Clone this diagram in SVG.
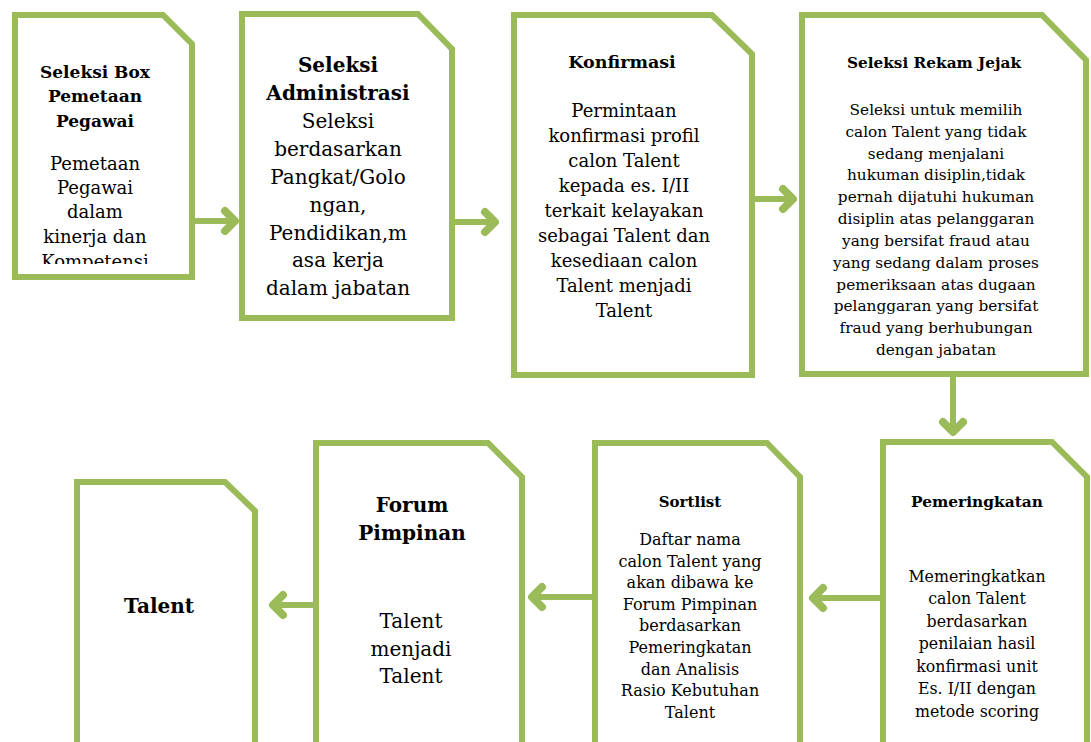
<svg xmlns="http://www.w3.org/2000/svg" width="1091" height="742" viewBox="0 0 1091 742">
  <style>
    .box { fill: #ffffff; stroke: #9bbb59; stroke-width: 6; stroke-linejoin: miter; }
    .t { font-family: "DejaVu Serif", "Liberation Serif", serif; fill: #000000; text-anchor: middle; }
    .b { font-weight: bold; }
    .conn { fill: none; stroke: #9bbb59; stroke-width: 6; }
  </style>
  <defs>
    <marker id="head" viewBox="0 0 30 30" refX="22" refY="15" markerWidth="30" markerHeight="30" markerUnits="userSpaceOnUse" orient="auto">
      <path d="M 11 5 L 21 15 L 11 25" fill="none" stroke="#9bbb59" stroke-width="8" stroke-linecap="round" stroke-linejoin="round"/>
    </marker>
    <clipPath id="clip1"><rect x="15" y="15" width="180" height="249"/></clipPath>
  </defs>
  <rect width="1091" height="742" fill="#ffffff"/>

  <g id="connectors">
    <path class="conn" d="M 193 221 H 236" marker-end="url(#head)"/>
    <path class="conn" d="M 452 222 H 496" marker-end="url(#head)"/>
    <path class="conn" d="M 752 199 H 794" marker-end="url(#head)"/>
    <path class="conn" d="M 953 376 V 433" marker-end="url(#head)"/>
    <path class="conn" d="M 883 598 H 812" marker-end="url(#head)"/>
    <path class="conn" d="M 595 597 H 531" marker-end="url(#head)"/>
    <path class="conn" d="M 316 605 H 272" marker-end="url(#head)"/>
  </g>

  <g id="node-seleksi-box">
    <path class="box" d="M 15 15 H 163 L 192 44 V 277 H 15 Z"/>
    <text class="t b" font-size="17" x="95"><tspan x="95" y="78">Seleksi Box</tspan><tspan x="95" y="102">Pemetaan</tspan><tspan x="95" y="127">Pegawai</tspan></text>
    <g clip-path="url(#clip1)">
      <text class="t" font-size="18" x="95"><tspan x="95" y="170">Pemetaan</tspan><tspan x="95" y="194">Pegawai</tspan><tspan x="95" y="218">dalam</tspan><tspan x="95" y="243">kinerja dan</tspan><tspan x="95" y="268">Kompetensi</tspan></text>
    </g>
  </g>

  <g id="node-seleksi-administrasi">
    <path class="box" d="M 242 14 H 418 L 452 49 V 318 H 242 Z"/>
    <text class="t b" font-size="20" x="338"><tspan x="338" y="72">Seleksi</tspan><tspan x="338" y="100">Administrasi</tspan></text>
    <text class="t" font-size="20" x="338"><tspan x="338" y="128">Seleksi</tspan><tspan x="338" y="156">berdasarkan</tspan><tspan x="338" y="184">Pangkat/Golo</tspan><tspan x="338" y="212">ngan,</tspan><tspan x="338" y="240">Pendidikan,m</tspan><tspan x="338" y="267">asa kerja</tspan><tspan x="338" y="295">dalam jabatan</tspan></text>
  </g>

  <g id="node-konfirmasi">
    <path class="box" d="M 514 15 H 712 L 752 54 V 375 H 514 Z"/>
    <text class="t b" font-size="17.5" x="622" y="68">Konfirmasi</text>
    <text class="t" font-size="18" x="624"><tspan x="624" y="117">Permintaan</tspan><tspan x="624" y="142">konfirmasi profil</tspan><tspan x="624" y="167">calon Talent</tspan><tspan x="624" y="192">kepada es. I/II</tspan><tspan x="624" y="217">terkait kelayakan</tspan><tspan x="624" y="242">sebagai Talent dan</tspan><tspan x="624" y="267">kesediaan calon</tspan><tspan x="624" y="292">Talent menjadi</tspan><tspan x="624" y="317">Talent</tspan></text>
  </g>

  <g id="node-seleksi-rekam-jejak">
    <path class="box" d="M 802 15 H 1042 L 1086 60 V 374 H 802 Z"/>
    <text class="t b" font-size="15.3" x="934" y="68">Seleksi Rekam Jejak</text>
    <text class="t" font-size="15.3" x="936"><tspan x="936" y="115">Seleksi untuk memilih</tspan><tspan x="936" y="137">calon Talent yang tidak</tspan><tspan x="936" y="159">sedang menjalani</tspan><tspan x="936" y="180">hukuman disiplin,tidak</tspan><tspan x="936" y="202">pernah dijatuhi hukuman</tspan><tspan x="936" y="224">disiplin atas pelanggaran</tspan><tspan x="936" y="246">yang bersifat fraud atau</tspan><tspan x="936" y="268">yang sedang dalam proses</tspan><tspan x="936" y="290">pemeriksaan atas dugaan</tspan><tspan x="936" y="311">pelanggaran yang bersifat</tspan><tspan x="936" y="333">fraud yang berhubungan</tspan><tspan x="936" y="355">dengan jabatan</tspan></text>
  </g>

  <g id="node-pemeringkatan">
    <path class="box" d="M 883 442 H 1052 L 1087 477 V 760 H 883 Z"/>
    <text class="t b" font-size="15.4" x="977" y="507">Pemeringkatan</text>
    <text class="t" font-size="15.8" x="977"><tspan x="977" y="582">Memeringkatkan</tspan><tspan x="977" y="604">calon Talent</tspan><tspan x="977" y="627">berdasarkan</tspan><tspan x="977" y="649">penilaian hasil</tspan><tspan x="977" y="672">konfirmasi unit</tspan><tspan x="977" y="694">Es. I/II dengan</tspan><tspan x="977" y="717">metode scoring</tspan></text>
  </g>

  <g id="node-sortlist">
    <path class="box" d="M 595 443 H 767 L 800 477 V 760 H 595 Z"/>
    <text class="t b" font-size="15" x="690" y="507">Sortlist</text>
    <text class="t" font-size="16" x="690"><tspan x="690" y="545">Daftar nama</tspan><tspan x="690" y="567">calon Talent yang</tspan><tspan x="690" y="588">akan dibawa ke</tspan><tspan x="690" y="610">Forum Pimpinan</tspan><tspan x="690" y="631">berdasarkan</tspan><tspan x="690" y="653">Pemeringkatan</tspan><tspan x="690" y="675">dan Analisis</tspan><tspan x="690" y="696">Rasio Kebutuhan</tspan><tspan x="690" y="718">Talent</tspan></text>
  </g>

  <g id="node-forum-pimpinan">
    <path class="box" d="M 316 443 H 488 L 522 477 V 760 H 316 Z"/>
    <text class="t b" font-size="20" x="412"><tspan x="412" y="512">Forum</tspan><tspan x="412" y="540">Pimpinan</tspan></text>
    <text class="t" font-size="20" x="411"><tspan x="411" y="628">Talent</tspan><tspan x="411" y="656">menjadi</tspan><tspan x="411" y="683">Talent</tspan></text>
  </g>

  <g id="node-talent">
    <path class="box" d="M 77 482 H 225 L 255 511 V 760 H 77 Z"/>
    <text class="t b" font-size="20" x="159" y="613">Talent</text>
  </g>
</svg>
